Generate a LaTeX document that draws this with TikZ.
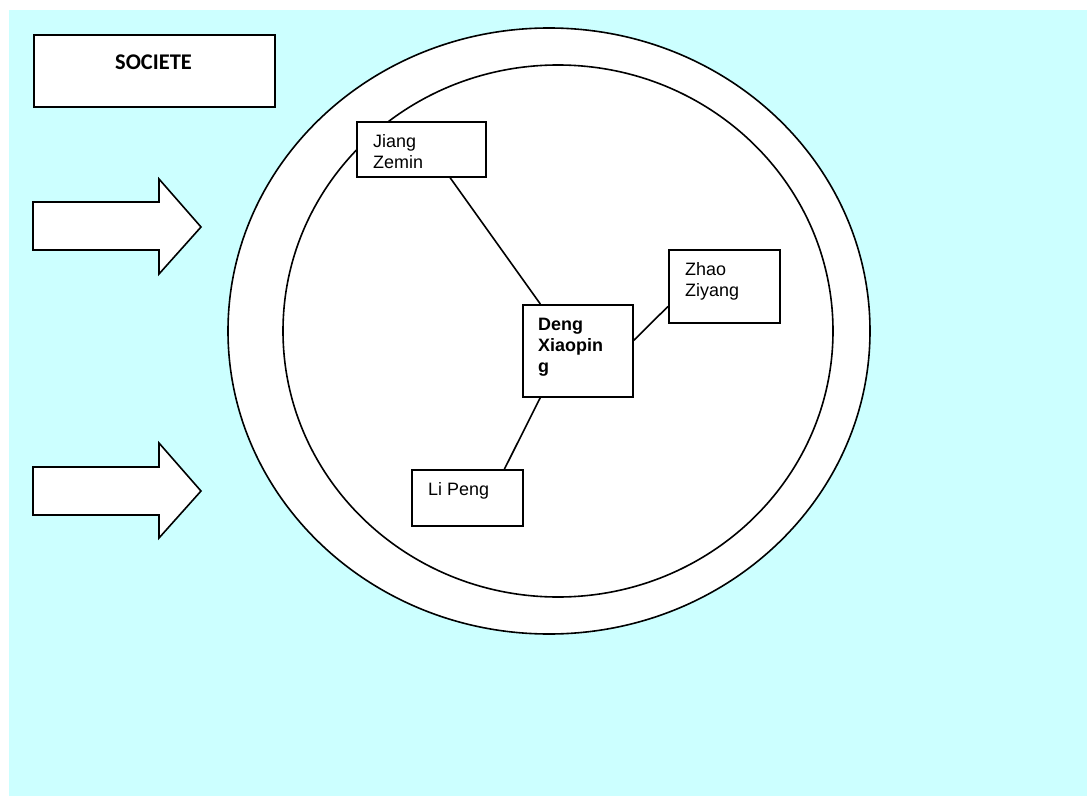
\documentclass[tikz,border=0pt]{standalone}
\usepackage{fontspec}
\setmainfont{Liberation Sans}
\newfontfamily\calib{Carlito}
\usetikzlibrary{calc}
\definecolor{bgcyan}{HTML}{CCFFFF}
\tikzset{
  outline/.style={draw=black, line width=1.6bp, fill=white},
  boxnode/.style={outline, rectangle, inner sep=0, anchor=north west},
  txt/.style={inner sep=0, anchor=north west, align=left, font=\fontsize{18}{21}\selectfont},
  link/.style={draw=black, line width=1.6bp}
}
\begin{document}
\begin{tikzpicture}[x=1bp, y=-1bp]
\useasboundingbox (0,0) rectangle (1087,796);
\fill[bgcyan] (9,10) rectangle (1087,796);

% Societe box
\node[boxnode, minimum width=241bp, minimum height=72bp] (soc) at (33,34) {};
\node[inner sep=0, font=\calib\bfseries\fontsize{22.5}{26}\selectfont] (soct) at (153.5,62) {SOCIETE};

% arrows
\draw[outline, line join=miter] (33,202) -- (159,202) -- (159,179) -- (201,227) -- (159,274) -- (159,250) -- (33,250) -- cycle;
\draw[outline, line join=miter] (33,467) -- (159,467) -- (159,443) -- (201,491) -- (159,538) -- (159,515) -- (33,515) -- cycle;

% circles
\draw[outline] (549,331) ellipse [x radius=321bp, y radius=303bp];
\draw[outline] (558,331) ellipse [x radius=275bp, y radius=266bp];

% boxes
\node[boxnode, minimum width=129bp, minimum height=55bp] (jiang) at (356,121) {};
\node[boxnode, minimum width=110bp, minimum height=92bp] (deng) at (522,304) {};
\node[boxnode, minimum width=111bp, minimum height=73bp] (zhao) at (668,249) {};
\node[boxnode, minimum width=111bp, minimum height=56bp] (li) at (411,469) {};

% connectors
\draw[link] ($(jiang.south west)!0.72!(jiang.south east)$) -- ($(deng.north west)!0.164!(deng.north east)$);
\draw[link] ($(deng.north east)!0.39!(deng.south east)$) -- ($(zhao.north west)!0.77!(zhao.south west)$);
\draw[link] ($(deng.south west)!0.164!(deng.south east)$) -- ($(li.north west)!0.83!(li.north east)$);

% texts
\node[txt] (jiangt) at (373,134) {Jiang\\Zemin};
\node[txt, font=\fontsize{18}{21}\selectfont\bfseries] (dengt) at (538,318) {Deng\\Xiaopin\\g};
\node[txt] (zhaot) at (685,262) {Zhao\\Ziyang};
\node[txt] (lit) at (428,482) {Li Peng};
\end{tikzpicture}
\end{document}
